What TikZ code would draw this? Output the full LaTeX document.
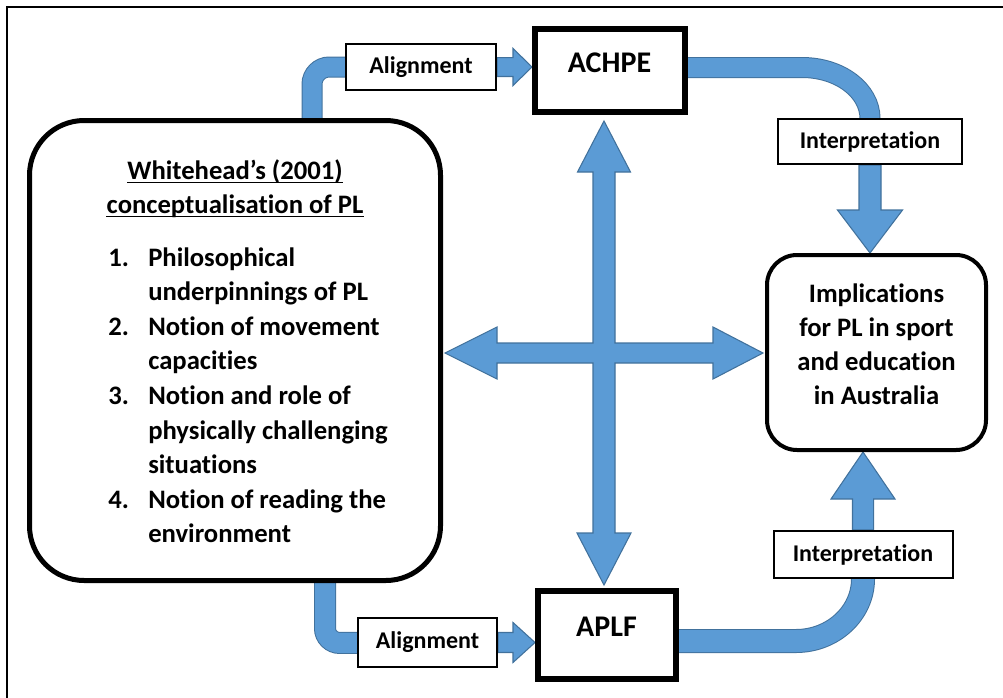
\documentclass[tikz,border=0pt]{standalone}
\usepackage{fontspec}
\setmainfont{Carlito}[Ligatures={NoCommon,NoContextual}]
\usetikzlibrary{calc}
\definecolor{bfill}{HTML}{5B9BD5}
\definecolor{bline}{HTML}{41719C}
\pgfdeclarelayer{bg}
\pgfsetlayers{bg,main}
\newcommand\blk[5]{%
  \path ($(#2)!#5!(#1)$) coordinate (hb);
  \draw[barrow] ($(#1)!#3!90:(#2)$) -- ($(hb)!#3!90:(#2)$) -- ($(hb)!#4!90:(#2)$) -- (#2)
    -- ($(hb)!#4!-90:(#2)$) -- ($(hb)!#3!-90:(#2)$) -- ($(#1)!#3!-90:(#2)$) -- cycle;}
\newcommand\band[2]{%
  \draw[bline, line width=#1+1.5pt] #2;
  \draw[bfill, line width=#1] #2;}
\tikzset{
  sqbox/.style={draw, line width=4.5pt, fill=white, inner sep=0pt},
  lblbox/.style={draw, line width=1.5pt, fill=white, inner sep=0pt,
    font=\fontsize{18}{21}\selectfont\bfseries},
  rbox/.style={draw, fill=white, inner sep=0pt},
  bigtxt/.style={inner sep=0pt, font=\fontsize{22.5}{27}\selectfont\bfseries},
  midtxt/.style={inner sep=0pt, font=\fontsize{20}{24}\selectfont\bfseries},
  barrow/.style={fill=bfill, draw=bline, line width=0.8pt, line join=miter},
}
\begin{document}
\begin{tikzpicture}[x=0.75pt,y=-0.75pt]
\useasboundingbox (0,0) rectangle (1003,697);
% outer frame
\draw[line width=1.6pt] (7,720) -- (7,7) -- (1030,7);

% main boxes
\node[rbox, line width=3.75pt, rounded corners=41pt, minimum width=308.25pt, minimum height=345pt] (wl) at (235,350.5) {};
\node[sqbox, minimum width=112.5pt, minimum height=62.25pt] (achpe) at (610,70.5) {};
\node[sqbox, minimum width=103.5pt, minimum height=66pt] (aplf) at (607,635) {};
\node[rbox, line width=3pt, rounded corners=22.5pt, minimum width=164.25pt, minimum height=146.25pt] (imp) at (876.5,352.5) {};

% label boxes
\node[lblbox, minimum width=112.5pt, minimum height=34.5pt] (al1) at (421,67) {Alignment};
\node[lblbox, minimum width=104.25pt, minimum height=36.75pt] (al2) at (427.5,642.5) {Alignment};
\node[lblbox, minimum width=138pt, minimum height=33.75pt] (in1) at (870,141.5) {Interpretation};
\node[lblbox, minimum width=134.25pt, minimum height=35.25pt] (in2) at (863,554.5) {Interpretation};

% box texts
\node[bigtxt, anchor=base] (achpeT) at (609.5,72) {ACHPE};
\node[bigtxt, anchor=base] (aplfT) at (606.5,636) {APLF};

\node[midtxt, anchor=base] (h1) at (235,179) {Whitehead’s (2001)};
\node[midtxt, anchor=base] (h2) at (235,213) {conceptualisation of PL};
\draw[line width=1.2pt] ([yshift=-2.5pt]h1.base west) -- ([yshift=-2.5pt]h1.base east);
\draw[line width=1.2pt] ([yshift=-2.5pt]h2.base west) -- ([yshift=-2.5pt]h2.base east);

\foreach \n/\i in {1./0, 2./2, 3./4, 4./7}
  \node[midtxt, anchor=base west] (num\i) at (108,266+34.6*\i) {\n};
\foreach \t [count=\i from 0] in {Philosophical, underpinnings of PL, Notion of movement, capacities,
    Notion and role of, physically challenging, situations, Notion of reading the, environment}
  \node[midtxt, anchor=base west] (li\i) at (148,266+34.6*\i) {\t};

\foreach \t [count=\i from 0] in {Implications, for PL in sport, and education, in Australia}
  \node[midtxt, anchor=base] (im\i) at (876.5,302+34*\i) {\t};

% connectors
\coordinate (k1) at (312,67);
\coordinate (k4) at (325,643);
\coordinate (k2) at (870,67.5);
\coordinate (k3) at (863,641);
\coordinate (t1) at (achpe.west |- al1.east);
\coordinate (t2) at (aplf.west |- al2.east);
\coordinate (t3) at (in1.south |- imp.north);
\coordinate (t4) at (in2.north |- imp.south);
\coordinate (c) at (604,353);

\begin{pgfonlayer}{bg}
  \band{14.25pt}{[rounded corners=13pt] (k1 |- wl.center) -- (k1) -- (al1.center)}
  \band{15pt}{[rounded corners=11pt] (k4 |- wl.center) -- (k4) -- (al2.center)}
  \band{14.25pt}{(achpe.center |- k2) -- ($(k2)+(-68,0)$) .. controls ($(k2)+(-30,0)$) and ($(k2)+(0,23)$) .. ($(k2)+(0,51)$) -- (in1.center)}
  \band{16.5pt}{(aplf.center |- k3) -- ($(k3)+(-67,0)$) .. controls ($(k3)+(-30,0)$) and ($(k3)+(0,-28)$) .. ($(k3)+(0,-62)$) -- (in2.center)}
  \blk{al1.east}{t1}{7.1pt}{13.9pt}{14.25pt}
  \blk{al2.east}{t2}{7.5pt}{15pt}{16.5pt}
  \blk{in1.south}{t3}{8.25pt}{24.4pt}{32.25pt}
  \blk{in2.north}{t4}{7.9pt}{24pt}{35.25pt}
  \begin{scope}[shift={(c)}]
    \draw[barrow] (0,-232) -- (26.5,-181) -- (11,-181) -- (11,-10) -- (109,-10) -- (109,-26)
      -- (159,0) -- (109,26) -- (109,10) -- (11,10) -- (11,180) -- (27,180) -- (0,232)
      -- (-27,180) -- (-11,180) -- (-11,10) -- (-107,10) -- (-107,26) -- (-159,0)
      -- (-107,-26) -- (-107,-10) -- (-11,-10) -- (-11,-181) -- (-26.5,-181) -- cycle;
  \end{scope}
\end{pgfonlayer}
\end{tikzpicture}
\end{document}
